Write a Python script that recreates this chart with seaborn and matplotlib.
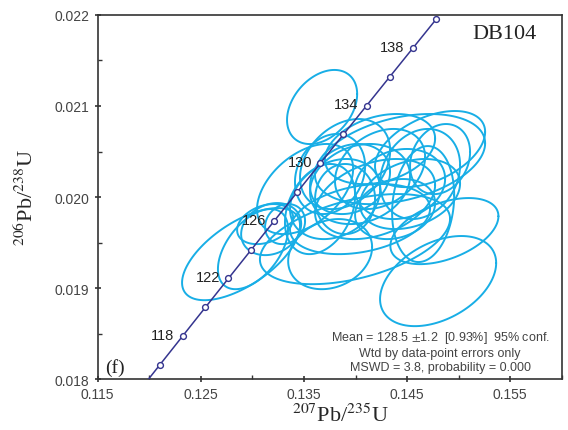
import numpy as np
import pandas as pd
import seaborn as sns
import matplotlib.pyplot as plt
from matplotlib.ticker import MultipleLocator

# Datos de las elipses (centro, semiejes 2 sigma, correlacion)
elip_x = [0.12890, 0.13006, 0.13182, 0.13317, 0.13754, 0.13676, 0.14801, 0.14862,
          0.14656, 0.14432, 0.14723, 0.14238, 0.13899, 0.13753, 0.13511, 0.14044,
          0.14190, 0.14432, 0.13899, 0.13656, 0.14626, 0.14044, 0.14820, 0.14384,
          0.13995, 0.13124, 0.13947, 0.14238, 0.14529, 0.13802]
elip_y = [0.019373, 0.019428, 0.019648, 0.019703, 0.019373, 0.020989, 0.019077, 0.019626,
          0.019923, 0.020417, 0.020527, 0.020527, 0.020362, 0.020253, 0.020088, 0.020143,
          0.019978, 0.020143, 0.019978, 0.019868, 0.020253, 0.019758, 0.020417, 0.019868,
          0.019538, 0.019703, 0.020198, 0.020308, 0.020033, 0.019978]
err_x = [0.00572, 0.00340, 0.00291, 0.00194, 0.00407, 0.00340, 0.00563, 0.00524,
         0.00301, 0.00825, 0.00534, 0.00534, 0.00437, 0.00340, 0.00466, 0.00485,
         0.00582, 0.00437, 0.00291, 0.00340, 0.00388, 0.00679, 0.00291, 0.00388,
         0.00922, 0.00272, 0.00388, 0.00437, 0.00485, 0.00437]
err_y = [0.000506, 0.000440, 0.000286, 0.000220, 0.000385, 0.000407, 0.000495, 0.000363,
         0.000637, 0.000495, 0.000418, 0.000385, 0.000495, 0.000440, 0.000495, 0.000440,
         0.000440, 0.000385, 0.000385, 0.000495, 0.000495, 0.000385, 0.000385, 0.000330,
         0.000495, 0.000220, 0.000385, 0.000440, 0.000385, 0.000440]
rho = [0.62, 0.5, 0.2, 0.15, 0.2, 0.35, 0.4, 0.45,
       0.15, 0.35, 0.45, 0.3, 0.3, 0.2, 0.45, 0.2,
       0.35, 0.15, 0.0, 0.3, 0.2, 0.3, 0.2, 0.2,
       0.45, 0.3, 0.2, 0.3, 0.3, 0.25]

# Edades de la concordia (Ma)
edades_marca = list(range(116, 141, 2))
edades_texto = [118, 122, 126, 130, 134, 138]

titulo_muestra = "DB104"
panel = "(f)"
texto_stats = ("Mean = 128.5 $\\pm$1.2  [0.93%]  95% conf.\n"
               "Wtd by data-point errors only\n"
               "MSWD = 3.8, probability = 0.000")

L238 = 1.55125e-10
L235 = 9.8485e-10


def concordia(t_ma):
    t = np.asarray(t_ma) * 1e6
    return np.exp(L235 * t) - 1, np.exp(L238 * t) - 1


# Tabla larga con los contornos de las elipses
ang = np.linspace(0, 2 * np.pi, 120)
filas = []
for i in range(len(elip_x)):
    r = rho[i]
    xs = elip_x[i] + err_x[i] * np.cos(ang)
    ys = elip_y[i] + err_y[i] * (r * np.cos(ang) + np.sqrt(1 - r * r) * np.sin(ang))
    filas.append(pd.DataFrame({"x": xs, "y": ys, "id": i}))
df_elip = pd.concat(filas, ignore_index=True)

t_curva = np.linspace(114, 140, 200)
cx, cy = concordia(t_curva)
df_curva = pd.DataFrame({"x": cx, "y": cy})
mx, my = concordia(edades_marca)
df_marcas = pd.DataFrame({"x": mx, "y": my})

sns.set_theme(style="ticks")
plt.rcParams["font.family"] = ["Liberation Sans", "DejaVu Sans"]
plt.rcParams["mathtext.fontset"] = "stix"

fig = plt.figure(figsize=(5.68, 4.31), dpi=100)
ax = fig.add_axes([0.172, 0.118, 0.817, 0.845])

sns.lineplot(data=df_elip, x="x", y="y", units="id", estimator=None, sort=False,
             color="#18aee6", linewidth=1.4, ax=ax, zorder=2)
sns.lineplot(data=df_curva, x="x", y="y", sort=False, color="#35358f",
             linewidth=1.1, ax=ax, zorder=3)
ax.plot(df_marcas["x"], df_marcas["y"], "o", ms=4.2, mfc="white", mec="#35358f",
        mew=1.0, zorder=4)

for e in edades_texto:
    ex, ey = concordia(e)
    ax.annotate(str(e), (ex, ey), xytext=(-6, 1), textcoords="offset points",
                ha="right", va="center", fontsize=10.5, color="#222222")

ax.set_xlim(0.115, 0.160)
ax.set_ylim(0.018, 0.022)
ax.xaxis.set_minor_locator(MultipleLocator(0.005))
ax.yaxis.set_minor_locator(MultipleLocator(0.0005))
ax.set_xticks([0.115, 0.125, 0.135, 0.145, 0.155])
ax.set_xticklabels(["0.115", "0.125", "0.135", "0.145", "0.155"])
ax.set_yticks([0.018, 0.019, 0.020, 0.021, 0.022])
ax.set_yticklabels(["0.018", "0.019", "0.020", "0.021", "0.022"])
ax.tick_params(which="major", direction="inout", length=5, width=1.2,
               labelsize=10, labelcolor="#444444", color="#333333")
ax.tick_params(which="minor", direction="in", length=3, width=1.0, color="#333333")
for s in ax.spines.values():
    s.set_color("#333333")
    s.set_linewidth(1.2)

ax.set_xlabel("$^{207}$Pb/$^{235}$U", family="Liberation Serif", fontsize=16)
ax.xaxis.set_label_coords(0.524, -0.068)
ax.set_ylabel("$^{206}$Pb/$^{238}$U", family="Liberation Serif", fontsize=16, labelpad=12)

ax.text(0.945, 0.948, titulo_muestra, transform=ax.transAxes, ha="right", va="center",
        family="Liberation Serif", fontsize=16, color="#222222")
ax.text(0.016, 0.01, panel, transform=ax.transAxes, ha="left", va="bottom",
        family="Liberation Serif", fontsize=14, color="#222222")
ax.text(0.738, 0.016, texto_stats, transform=ax.transAxes, ha="center", va="bottom",
        fontsize=9, color="#444444", linespacing=1.25)

fig.savefig("out.png", dpi=100)
